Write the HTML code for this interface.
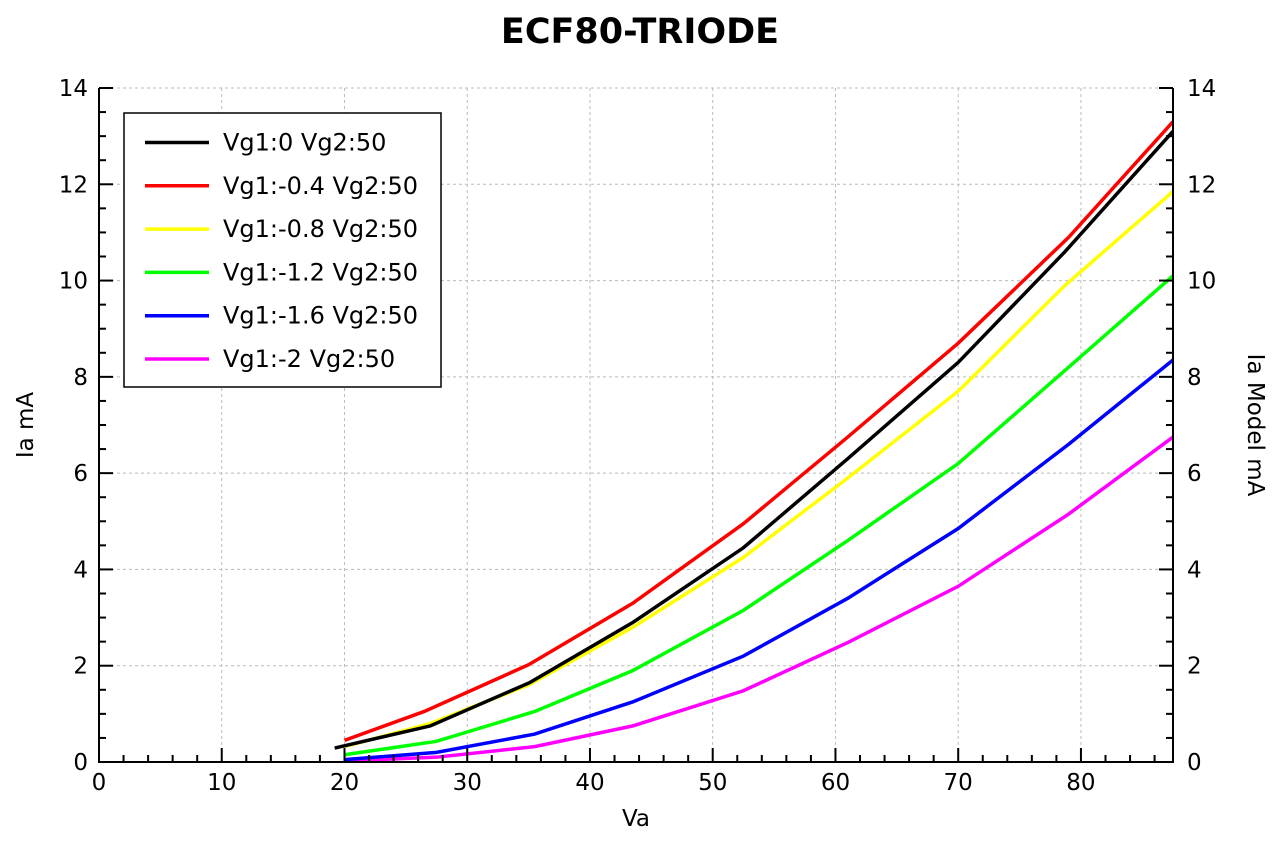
<!DOCTYPE html>
<html><head><meta charset="utf-8"><style>
body{margin:0;background:#fff;}
svg{display:block;font-family:"DejaVu Sans","Liberation Sans",sans-serif;}
</style></head><body>
<svg id="chart" width="1282" height="842" xmlns="http://www.w3.org/2000/svg">
<text x="640" y="43" text-anchor="middle" font-size="35" font-weight="bold">ECF80-TRIODE</text>
<text x="636" y="826" text-anchor="middle" font-size="23">Va</text>
<text transform="translate(33,425) rotate(-90)" text-anchor="middle" font-size="23">Ia mA</text>
<text transform="translate(1248,425) rotate(90)" text-anchor="middle" font-size="23">Ia Model mA</text>
<g id="grid"></g><g id="series"></g><g id="axes"></g><g id="legend"></g>
</svg>
<script>
const vaBlack=[19.2,27,35.1,43.5,52.5,61,70,78.7,87.5];
const iaBlack=[0.29,0.75,1.65,2.9,4.45,6.3,8.3,10.6,13.1];
const vaRed=[20,26.5,35,43.5,52.5,61,70,79,87.5];
const iaRed=[0.45,1.05,2.02,3.3,4.95,6.75,8.7,10.9,13.3];
const vaYellow=[20,27,35,43.5,52.5,61,70,78.7,87.5];
const iaYellow=[0.32,0.8,1.6,2.8,4.25,5.9,7.7,9.9,11.85];
const vaGreen=[20,27.5,35.5,43.5,52.5,61,70,79,87.5];
const iaGreen=[0.15,0.43,1.05,1.9,3.15,4.6,6.2,8.2,10.1];
const vaBlue=[20,27.5,35.5,43.5,52.5,61,70,79,87.5];
const iaBlue=[0.05,0.2,0.58,1.25,2.2,3.4,4.85,6.6,8.35];
const vaMag=[20,27.5,35.5,43.5,52.5,61,70,79,87.5];
const iaMag=[0.02,0.1,0.32,0.75,1.48,2.48,3.65,5.15,6.75];
const seriesNames=["Vg1:0 Vg2:50","Vg1:-0.4 Vg2:50","Vg1:-0.8 Vg2:50","Vg1:-1.2 Vg2:50","Vg1:-1.6 Vg2:50","Vg1:-2 Vg2:50"];
const xTicks=[0,10,20,30,40,50,60,70,80];
const yTicks=[0,2,4,6,8,10,12,14];

const NS="http://www.w3.org/2000/svg";
const L=99,R=1173,T=88,B=762,XMAX=87.5,YMAX=14;
const xs=v=>L+v/XMAX*(R-L), ys=v=>B-v/YMAX*(B-T);
function mk(tag,parent,attrs){const e=document.createElementNS(NS,tag);for(const k in attrs)e.setAttribute(k,attrs[k]);parent.appendChild(e);return e;}
const grid=document.getElementById('grid'),axes=document.getElementById('axes'),ser=document.getElementById('series'),leg=document.getElementById('legend');
const defs=mk('defs',document.getElementById('chart'),{});
const cp=mk('clipPath',defs,{id:'clip'});mk('rect',cp,{x:L,y:T,width:R-L,height:B-T});
xTicks.forEach(t=>{
 const g=mk('line',grid,{x1:xs(t),x2:xs(t),y1:T,y2:B,stroke:'#bbb','stroke-dasharray':'3,3'});
 
 
 const tx=mk('text',axes,{x:xs(t),y:B+28,'text-anchor':'middle','font-size':23});tx.textContent=t;
 
 
});
yTicks.forEach(t=>{
 const g=mk('line',grid,{x1:L,x2:R,y1:ys(t),y2:ys(t),stroke:'#bbb','stroke-dasharray':'3,3'});
 
 
 const a=mk('text',axes,{x:L-11,y:ys(t)+8,'text-anchor':'end','font-size':23});a.textContent=t;
 
 
 const b=mk('text',axes,{x:R+14,y:ys(t)+8,'font-size':23});b.textContent=t;
 
 
});
for(let v=0;v<=XMAX;v+=2){const maj=v%10===0;mk('line',axes,{x1:xs(v),x2:xs(v),y1:B,y2:B-(maj?14:7),stroke:'#000','stroke-width':2});}
for(let v=0;v<=YMAX;v+=0.5){const maj=v%2===0;const y=ys(v);
 mk('line',axes,{x1:L,x2:L+(maj?14:7),y1:y,y2:y,stroke:'#000','stroke-width':2});
 mk('line',axes,{x1:R,x2:R-(maj?14:7),y1:y,y2:y,stroke:'#000','stroke-width':2});}
mk('path',axes,{d:`M${L},${T}V${B}H${R}V${T}`,fill:'none',stroke:'#000','stroke-width':2});
const all=[[vaBlack,iaBlack,'#000'],[vaRed,iaRed,'#f00'],[vaYellow,iaYellow,'#ff0'],[vaGreen,iaGreen,'#0f0'],[vaBlue,iaBlue,'#00f'],[vaMag,iaMag,'#f0f']];
const order=[5,4,3,2,0,1];
order.forEach(i=>{const [xv,yv,c]=all[i];
 const p=mk('polyline',ser,{points:xv.map((x,j)=>xs(x)+','+ys(yv[j])).join(' '),fill:'none',stroke:c,'stroke-width':3.5,'clip-path':'url(#clip)'});
 
 
});
const box=mk('rect',leg,{x:124,y:113,width:317,height:274,fill:'#fff',stroke:'#000','stroke-width':1.5});


seriesNames.forEach((n,i)=>{const y=142.5+i*43.3;
 mk('line',leg,{x1:145,x2:209,y1:y,y2:y,stroke:all[i][2],'stroke-width':3.5});
 const t=mk('text',leg,{x:223,y:y+8,'font-size':24});t.textContent=n;
 
 
});
</script>
</body></html>
